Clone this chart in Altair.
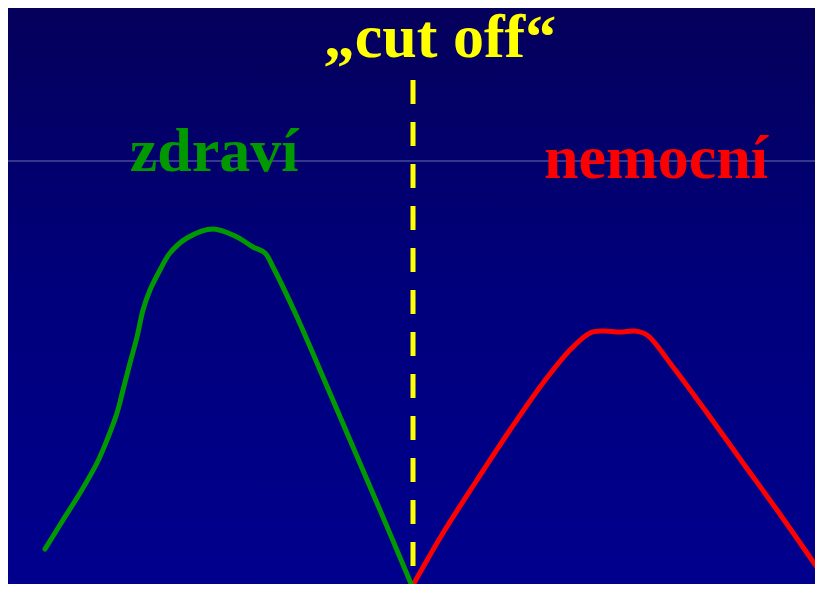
import altair as alt
import pandas as pd

# Healthy (zdraví) distribution curve: x position and height
healthy_x = [45, 63, 80, 97, 107, 117, 123, 130, 137, 143, 150, 160, 170, 187, 213, 237, 253, 265, 273, 297, 320, 350, 380, 412]
healthy_h = [43, 72, 99, 129, 152, 179, 202, 229, 255, 282, 302, 322, 339, 354, 363, 355, 345, 339, 325, 275, 222, 152, 82, 6]

# Sick (nemocní) distribution curve
sick_x = [413, 443, 477, 510, 543, 570, 590, 603, 620, 635, 647, 673, 710, 743, 777, 823]
sick_h = [7, 59, 112, 162, 209, 242, 259, 261, 260, 261, 257, 225, 175, 129, 82, 16]

# Cut-off line and thin horizontal guide line
cutoff_x = [413]
cutoff_top = [512]
cutoff_bottom = [0]
guide_h = [431]

# Background panel extent (whole slide)
bg_x = [0]
bg_x2 = [823]
bg_h = [0]
bg_h2 = [592]

# Labels
labels = ["„cut off“", "zdraví", "nemocní"]
label_x = [440, 214, 656]
label_h = [535, 421, 414]
label_colors = ["#FFFF00", "#009A00", "#FF0000"]

xs = alt.Scale(domain=[8, 815], nice=False, zero=False)
ys = alt.Scale(domain=[8, 584], nice=False, zero=False)

healthy = pd.DataFrame({"x": healthy_x, "h": healthy_h})
sick = pd.DataFrame({"x": sick_x, "h": sick_h})
cut = pd.DataFrame({"x": cutoff_x, "top": cutoff_top, "bottom": cutoff_bottom})
guide = pd.DataFrame({"h": guide_h})
bgdf = pd.DataFrame({"x": bg_x, "x2": bg_x2, "h": bg_h, "h2": bg_h2})
lab = pd.DataFrame({"label": labels, "x": label_x, "h": label_h})

bg = alt.LinearGradient(
    gradient="linear",
    stops=[
        alt.GradientStop(color="#05005A", offset=0),
        alt.GradientStop(color="#00007C", offset=0.5),
        alt.GradientStop(color="#00008E", offset=1),
    ],
    x1=0, x2=0, y1=0, y2=1,
)

bg_layer = alt.Chart(bgdf).mark_rect(color=bg, clip=True).encode(
    x=alt.X("x:Q", scale=xs, axis=None),
    x2="x2:Q",
    y=alt.Y("h2:Q", scale=ys, axis=None),
    y2="h:Q",
)

guide_layer = alt.Chart(guide).mark_rule(color="#6E6EB4", strokeWidth=1).encode(
    y=alt.Y("h:Q", scale=ys, axis=None)
)

green = alt.Chart(healthy).mark_line(
    color="#009A00", strokeWidth=5, interpolate="catmull-rom", clip=True, strokeCap="round"
).encode(
    x=alt.X("x:Q", scale=xs, axis=None),
    y=alt.Y("h:Q", scale=ys, axis=None),
)

red = alt.Chart(sick).mark_line(
    color="#FF0000", strokeWidth=5, interpolate="catmull-rom", clip=True, strokeCap="round"
).encode(
    x=alt.X("x:Q", scale=xs, axis=None),
    y=alt.Y("h:Q", scale=ys, axis=None),
)

dash = alt.Chart(cut).mark_rule(
    color="#FFFF00", strokeWidth=5, strokeDash=[24, 18], strokeCap="butt", clip=True
).encode(
    x=alt.X("x:Q", scale=xs, axis=None),
    y=alt.Y("top:Q", scale=ys, axis=None),
    y2="bottom:Q",
)

text = alt.Chart(lab).mark_text(
    font="Liberation Serif", fontWeight="bold", fontSize=62,
    align="center", baseline="alphabetic"
).encode(
    x=alt.X("x:Q", scale=xs, axis=None),
    y=alt.Y("h:Q", scale=ys, axis=None),
    text="label:N",
    color=alt.Color("label:N", scale=alt.Scale(domain=labels, range=label_colors), legend=None),
)

chart = alt.layer(bg_layer, guide_layer, red, green, dash, text).properties(
    width=807, height=576, padding=0,
    autosize=alt.AutoSizeParams(type="none"),
).configure_view(stroke=None)

chart.save("out.html", embed_options={"renderer": "svg", "actions": False})
